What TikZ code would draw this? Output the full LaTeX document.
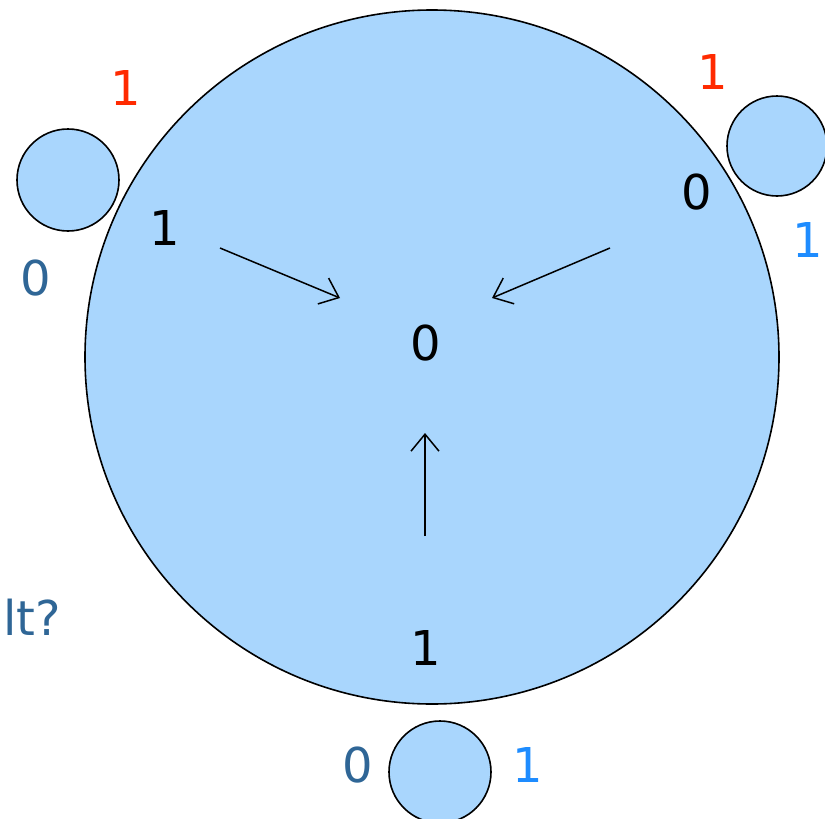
\documentclass[tikz,border=0pt]{standalone}
\usepackage{fontspec}
\setmainfont{DejaVu Sans}
\usetikzlibrary{arrows.meta}
\definecolor{fillblue}{HTML}{A9D6FD}
\definecolor{redtxt}{HTML}{FF2A00}
\definecolor{darkbluetxt}{HTML}{2F6696}
\definecolor{lightbluetxt}{HTML}{1E8CFF}
\begin{document}
\begin{tikzpicture}[x=1pt,y=-1pt,
  disc/.style={circle,draw=black,fill=fillblue,line width=1.6pt,inner sep=0pt},
  lbl/.style={font=\fontsize{48}{48}\selectfont,inner sep=0pt},
  arr/.style={-{Straight Barb[length=17pt,width=28pt]},line width=1.5pt}]
\useasboundingbox (0,0) rectangle (825,819);
\node[disc,minimum size=694pt] (big) at (432,357) {};
\node[disc,minimum size=102pt] (sl) at (68,180) {};
\node[disc,minimum size=100pt] (sr) at (777,146) {};
\node[disc,minimum size=102pt] (sb) at (440,772) {};
\node[lbl,text=redtxt] (t1) at (126,88) {1};
\node[lbl,text=darkbluetxt] (t2) at (36,278) {0};
\node[lbl] (t3) at (165,228) {1};
\node[lbl] (t4) at (697,192) {0};
\node[lbl,text=redtxt] (t5) at (713,72) {1};
\node[lbl,text=lightbluetxt] (t6) at (808,240) {1};
\node[lbl] (c) at (426,343) {0};
\node[lbl] (t8) at (426,648) {1};
\node[lbl,text=darkbluetxt] (t9) at (358,765) {0};
\node[lbl,text=lightbluetxt] (t10) at (528,765) {1};
\node[lbl,text=darkbluetxt,anchor=west] (t11) at (3,617) {lt?};
\coordinate (a1s) at (220,248);
\coordinate (a1e) at (340,298);
\coordinate (a2s) at (610,248);
\coordinate (a2e) at (492,298);
\coordinate (a3s) at (425,536);
\coordinate (a3e) at (425,433);
\draw[arr] (a1s) -- (a1e);
\draw[arr] (a2s) -- (a2e);
\draw[arr] (a3s) -- (a3e);
\end{tikzpicture}
\end{document}
